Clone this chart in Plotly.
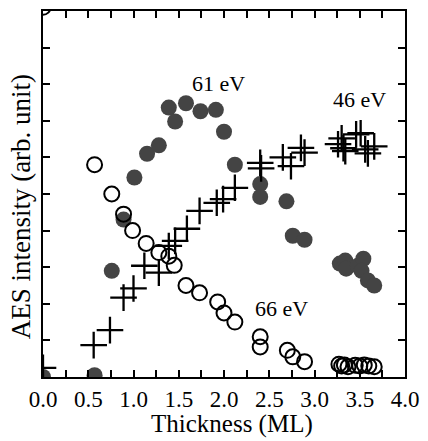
import plotly.graph_objects as go

# 66 eV (open circles)
x66 = [0.0, 0.57, 0.76, 0.89, 0.99, 1.14, 1.28, 1.39, 1.45, 1.58, 1.73, 1.93, 2.0, 2.12,
       2.40, 2.40, 2.70, 2.76, 2.89, 3.27, 3.30, 3.33, 3.37, 3.45, 3.50, 3.55, 3.60, 3.66]
y66 = [10.1, 5.8, 5.0, 4.45, 4.0, 3.65, 3.4, 3.3, 3.05, 2.5, 2.3, 2.05, 1.75, 1.5,
       1.1, 0.82, 0.73, 0.55, 0.42, 0.35, 0.3, 0.33, 0.28, 0.32, 0.3, 0.33, 0.3, 0.28]

# 61 eV (filled circles)
x61 = [0.0, 0.57, 0.76, 0.89, 1.01, 1.15, 1.28, 1.39, 1.46, 1.58, 1.74, 1.91, 2.0, 2.12,
       2.40, 2.40, 2.69, 2.76, 2.89, 3.28, 3.34, 3.35, 3.48, 3.54, 3.52, 3.59, 3.66]
y61 = [0.0, 0.05, 2.9, 4.3, 5.45, 6.1, 6.33, 7.36, 6.98, 7.48, 7.26, 7.3, 6.7, 5.8,
       5.27, 4.92, 4.8, 3.86, 3.75, 3.1, 3.18, 2.96, 3.04, 3.23, 2.9, 2.64, 2.5]

# 46 eV (crosses)
x46 = [0.0, 0.56, 0.74, 0.89, 1.0, 1.12, 1.28, 1.39, 1.46, 1.59, 1.73, 1.92, 1.99, 2.12,
       2.40, 2.41, 2.65, 2.74, 2.85, 2.89, 3.26, 3.30, 3.32, 3.34, 3.46, 3.51, 3.56, 3.59, 3.66]
y46 = [0.25, 0.87, 1.28, 2.17, 2.42, 3.04, 2.85, 3.58, 3.72, 4.05, 4.54, 4.76, 4.86, 5.17,
       5.85, 5.7, 6.0, 5.76, 6.26, 6.13, 6.36, 6.52, 6.25, 6.17, 6.63, 6.66, 6.22, 6.11, 6.3]

labels = ["61 eV", "46 eV", "66 eV"]
label_x = [1.94, 3.5, 2.63]
label_y = [8.02, 7.58, 1.87]

x_title = "Thickness (ML)"
y_title = "AES intensity (arb. unit)"

FONT = "Liberation Serif, Times New Roman, Times, DejaVu Serif, serif"

fig = go.Figure()
fig.add_trace(go.Scatter(x=x61, y=y61, mode="markers",
                         marker=dict(symbol="circle", size=16, color="#444444",
                                     line=dict(width=0))))
fig.add_trace(go.Scatter(x=x66, y=y66, mode="markers",
                         marker=dict(symbol="circle-open", size=15, color="black",
                                     line=dict(width=2, color="black"))))
fig.add_trace(go.Scatter(x=x46, y=y46, mode="markers",
                         marker=dict(symbol="cross-thin", size=19,
                                     line=dict(width=2.3, color="black"))))

for t, lx, ly in zip(labels, label_x, label_y):
    fig.add_annotation(x=lx, y=ly, text=t, showarrow=False,
                       font=dict(family=FONT, size=22, color="black"))

# axis titles (placed as in the original figure)
fig.add_annotation(xref="paper", yref="paper", x=0.522, y=-0.128, text=x_title,
                   showarrow=False, xanchor="center", yanchor="middle",
                   font=dict(family=FONT, size=25, color="black"))
fig.add_annotation(xref="paper", yref="paper", x=-0.062, y=0.465, text=y_title,
                   showarrow=False, xanchor="center", yanchor="middle", textangle=-90,
                   font=dict(family=FONT, size=27, color="black"))

fig.update_layout(
    width=428, height=441,
    margin=dict(l=43, r=15, t=9, b=64),
    plot_bgcolor="white", paper_bgcolor="white",
    showlegend=False,
    font=dict(family=FONT, color="black"),
)
fig.update_xaxes(
    range=[0, 4.0], dtick=0.5, tick0=0, tickformat=".1f",
    ticks="inside", ticklen=7, tickwidth=1.5, tickcolor="black",
    minor=dict(dtick=0.25, ticks="inside", ticklen=7, tickwidth=1.5, tickcolor="black"),
    showline=True, linewidth=2, linecolor="black", mirror="allticks",
    showgrid=False, zeroline=False,
    tickfont=dict(family=FONT, size=23, color="black"),
)
fig.update_yaxes(
    range=[0, 10], dtick=1, tick0=0, showticklabels=False,
    ticks="inside", ticklen=7, tickwidth=1.5, tickcolor="black",
    showline=True, linewidth=2, linecolor="black", mirror="allticks",
    showgrid=False, zeroline=False,
)

fig.write_html("out.html")
